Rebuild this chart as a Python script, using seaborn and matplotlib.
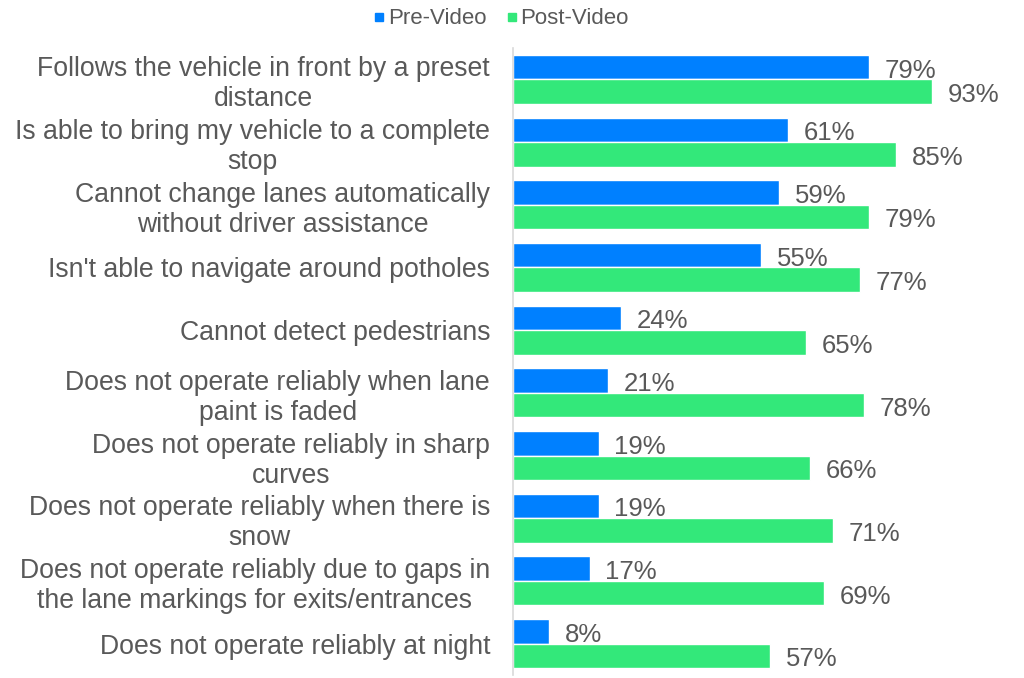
import matplotlib
matplotlib.use("Agg")
import matplotlib.pyplot as plt
from matplotlib.lines import Line2D
import seaborn as sns
import pandas as pd

categories = [
    "Follows the vehicle in front by a preset\ndistance",
    "Is able to bring my vehicle to a complete\nstop",
    "Cannot change lanes automatically\nwithout driver assistance",
    "Isn't able to navigate around potholes",
    "Cannot detect pedestrians",
    "Does not operate reliably when lane\npaint is faded",
    "Does not operate reliably in sharp\ncurves",
    "Does not operate reliably when there is\nsnow",
    "Does not operate reliably due to gaps in\nthe lane markings for exits/entrances",
    "Does not operate reliably at night",
]
pre_video = [79, 61, 59, 55, 24, 21, 19, 19, 17, 8]
post_video = [93, 85, 79, 77, 65, 78, 66, 71, 69, 57]
series = ["Pre-Video", "Post-Video"]
colors = ["#0080FF", "#33E87A"]

df = pd.DataFrame({
    "category": categories * 2,
    "series": [series[0]] * len(categories) + [series[1]] * len(categories),
    "value": pre_video + post_video,
})

sns.set_theme(style="white")
plt.rcParams["font.family"] = ["Liberation Sans", "DejaVu Sans"]
text_color = "#595959"

fig = plt.figure(figsize=(10.24, 6.78), dpi=100)
ax = fig.add_axes([513 / 1024, 1 - 675 / 678, (963 - 513) / 1024, (675 - 48) / 678])

sns.barplot(data=df, y="category", x="value", hue="series", order=categories,
            hue_order=series, palette=colors, orient="h", width=0.78,
            saturation=1, ax=ax, legend=False)

for container in ax.containers:
    anns = ax.bar_label(container, labels=[f"{v:.0f}%" for v in container.datavalues],
                        padding=11.5, fontsize=18.5, color=text_color)
    for ann in anns:
        ann.xyann = (11.5, -2.5)

ax.set_xlim(0, 100)
ax.set_ylim(len(categories) - 0.5, -0.5)
ax.set_xlabel("")
ax.set_ylabel("")
ax.set_xticks([])
ax.tick_params(axis="y", length=0, pad=16.5, labelsize=19.2, labelcolor=text_color)
for lbl in ax.get_yticklabels():
    lbl.set_horizontalalignment("right")
    lbl.set_multialignment("center")

for side in ["top", "right", "bottom"]:
    ax.spines[side].set_visible(False)
ax.spines["left"].set_color("#D9D9D9")
ax.spines["left"].set_linewidth(1.2)

handles = [Line2D([0], [0], marker="s", linestyle="", markersize=6,
                  markerfacecolor=c, markeredgecolor=c) for c in colors]
fig.legend(handles, series, loc="center", bbox_to_anchor=(500 / 1024, 1 - 19 / 678),
           ncol=2, frameon=False, fontsize=16, handletextpad=0.05,
           columnspacing=0.8, labelcolor=text_color, handlelength=0.7)

fig.savefig("out.png", dpi=100, facecolor="white")
